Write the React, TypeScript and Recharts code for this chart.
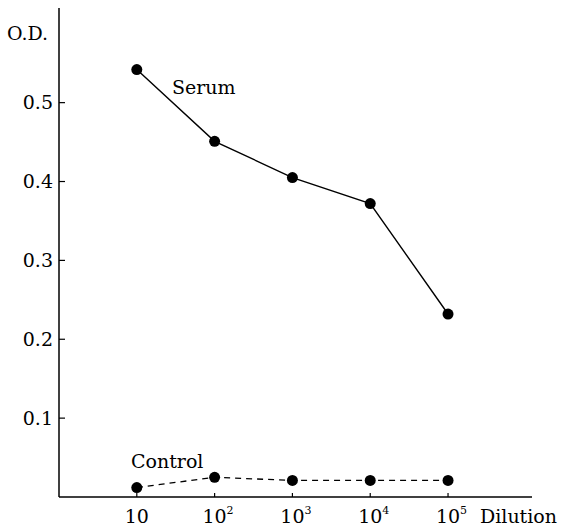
import React from 'react';
import { LineChart, Line, XAxis, YAxis } from 'recharts';

const dilutions = [10, 100, 1000, 10000, 100000];
const serumOD = [0.542, 0.451, 0.405, 0.372, 0.232];
const controlOD = [0.012, 0.025, 0.021, 0.021, 0.021];
const xTickValues = [10, 100, 1000, 10000, 100000];
const xTickBase = ['10', '10', '10', '10', '10'];
const xTickSup = ['', '2', '3', '4', '5'];
const yTickValues = [0.1, 0.2, 0.3, 0.4, 0.5];
const yTickLabels = ['0.1', '0.2', '0.3', '0.4', '0.5'];

const data = dilutions.map((d, i) => ({ dilution: d, serum: serumOD[i], control: controlOD[i] }));

const FONT = '"DejaVu Serif", "Liberation Serif", serif';

const XTick = (props: any) => {
  const { x, y, payload } = props;
  const i = xTickValues.indexOf(payload.value);
  return (
    <g>
      <line x1={x} x2={x} y1={y - 4} y2={y} stroke="#000" strokeWidth={1.2} />
      <text x={x} y={y + 26} textAnchor="middle" fontFamily={FONT} fontSize={19} fill="#000">
        {xTickBase[i]}
      </text>
      {xTickSup[i] ? (
        <text x={x + 12} y={y + 17} textAnchor="start" fontFamily={FONT} fontSize={11} fill="#000">
          {xTickSup[i]}
        </text>
      ) : null}
    </g>
  );
};

const YTick = (props: any) => {
  const { x, y, payload } = props;
  const i = yTickValues.indexOf(payload.value);
  return (
    <g>
      <line x1={x + 6} x2={x + 12} y1={y} y2={y} stroke="#000" strokeWidth={1.2} />
      <text x={x} y={y} dy="0.36em" textAnchor="end" fontFamily={FONT} fontSize={19} fill="#000">
        {yTickLabels[i]}
      </text>
    </g>
  );
};

const Dot = (props: any) => {
  const { cx, cy } = props;
  return <circle cx={cx} cy={cy} r={5.5} fill="#000" stroke="none" />;
};

export default function App() {
  return (
    <div style={{ position: 'absolute', left: 0, top: 0, width: 562, height: 530, background: '#fff' }}>
      <LineChart
        width={562}
        height={530}
        data={data}
        margin={{ top: 8, right: 30, bottom: 0, left: 0 }}
      >
        <XAxis
          dataKey="dilution"
          type="number"
          scale="log"
          domain={[1, 1200000]}
          ticks={xTickValues}
          allowDataOverflow
          height={33}
          tickSize={0}
          tickMargin={0}
          tickLine={false}
          axisLine={{ stroke: '#000', strokeWidth: 1.5 }}
          tick={<XTick />}
          interval={0}
          label={{
            content: () => (
              <text x={480} y={523} fontFamily={FONT} fontSize={19} fill="#000">
                Dilution
              </text>
            ),
          }}
        />
        <YAxis
          type="number"
          domain={[0, 0.62]}
          ticks={yTickValues}
          allowDataOverflow
          width={59}
          tickSize={0}
          tickMargin={6}
          tickLine={false}
          axisLine={{ stroke: '#000', strokeWidth: 1.5 }}
          tick={<YTick />}
          interval={0}
          label={{
            content: () => (
              <text x={7} y={40} fontFamily={FONT} fontSize={19} fill="#000">
                O.D.
              </text>
            ),
          }}
        />
        <Line
          dataKey="serum"
          stroke="#000"
          strokeWidth={1.4}
          dot={<Dot />}
          activeDot={false}
          isAnimationActive={false}
          type="linear"
        />
        <Line
          dataKey="control"
          stroke="#000"
          strokeWidth={1.3}
          strokeDasharray="6 5"
          dot={<Dot />}
          activeDot={false}
          isAnimationActive={false}
          type="linear"
        />
      </LineChart>
      <svg
        width={562}
        height={530}
        style={{ position: 'absolute', left: 0, top: 0, pointerEvents: 'none' }}
      >
        <text x={172} y={94} fontFamily={FONT} fontSize={19} fill="#000">
          Serum
        </text>
        <text x={131} y={468} fontFamily={FONT} fontSize={19} fill="#000">
          Control
        </text>
      </svg>
    </div>
  );
}
